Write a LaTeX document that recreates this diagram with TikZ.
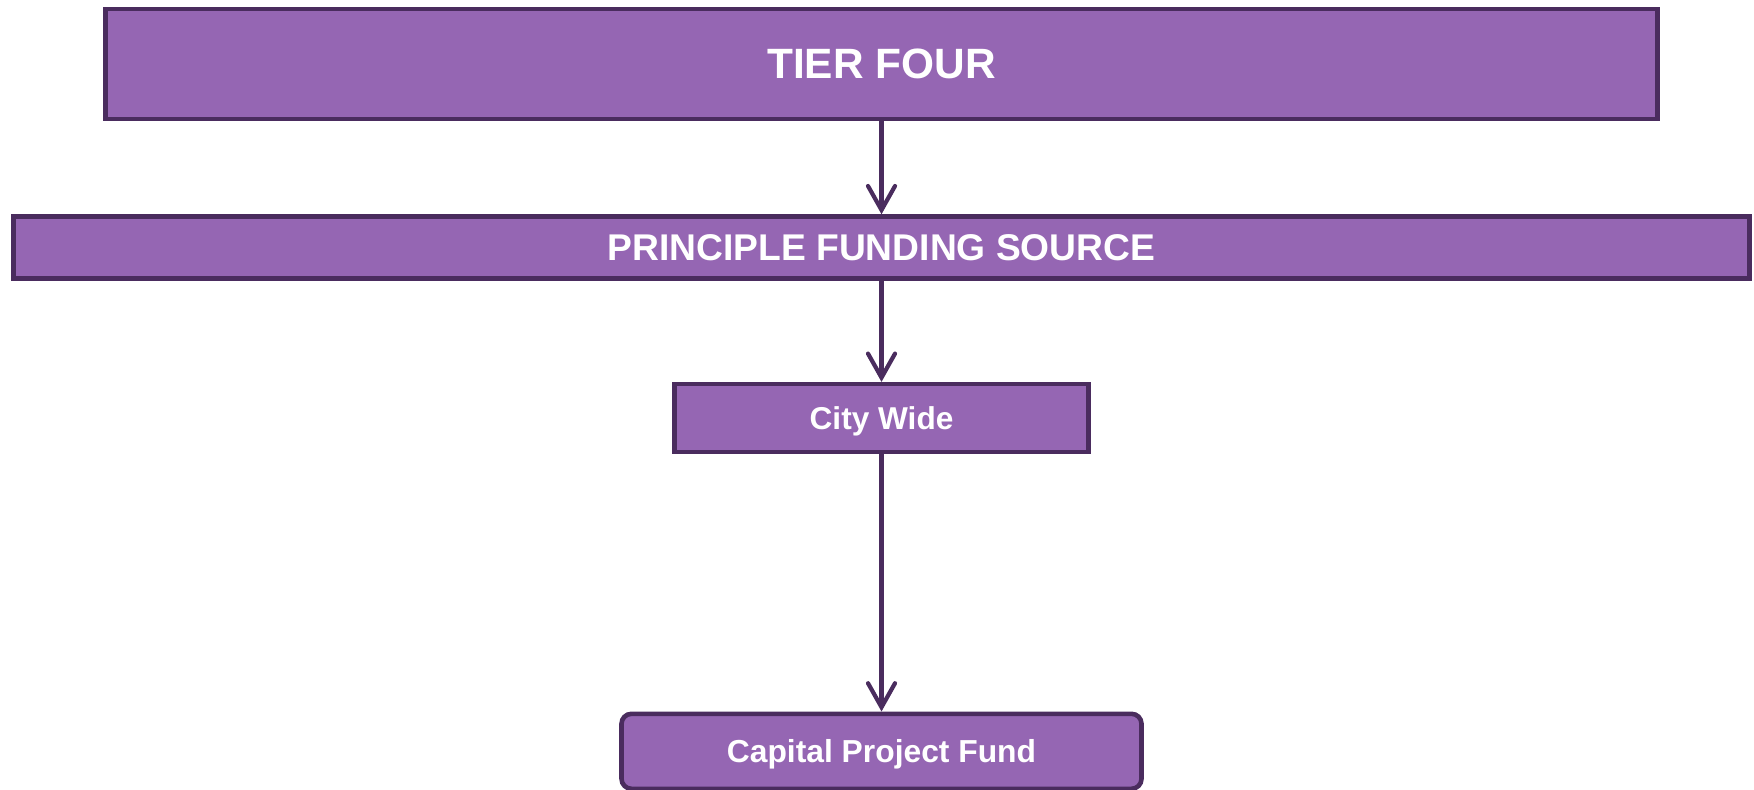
\documentclass[tikz,border=0pt]{standalone}
\usepackage{fontspec}
\setmainfont{Liberation Sans}
\usetikzlibrary{arrows.meta}
\usetikzlibrary{positioning}
\definecolor{tierfill}{RGB}{149,102,179}
\definecolor{tierline}{RGB}{74,44,94}
\tikzset{
    tierbox/.style={
           rectangle,
           draw=tierline, line width=2.3pt,
           fill=tierfill,
           text=white,
           inner sep=2pt,
           text depth=0pt,
           text centered,
           },
    tierfont/.style={font=\bfseries\fontsize{#1}{#1}\selectfont},
}

\begin{document}
\begin{tikzpicture}[x=0.5pt,y=-0.5pt,>={Straight Barb[length=12pt,width=13.5pt,line cap=round]}]
      \useasboundingbox (0,0) rectangle (1754,790);
      \node[tierbox, tierfont=21.2pt, minimum width=776pt, minimum height=55pt] (tier) at (881.5,64) {TIER FOUR};
      \node[tierbox, tierfont=18.6pt, minimum width=868pt, minimum height=31pt] (source) [below=46.5pt of tier] {PRINCIPLE FUNDING SOURCE};
      \node[tierbox, tierfont=15.8pt, minimum width=207pt, minimum height=34pt] (city) [below=50.5pt of source] {City Wide};
      \node[tierbox, tierfont=15.9pt, rounded corners=5pt, minimum width=260pt, minimum height=37.5pt] (fund) [below=128.5pt of city] {Capital Project Fund};
      \path[->, draw=tierline, line width=2.1pt]
      (tier) edge (source)
      (source) edge (city)
      (city) edge (fund);
\end{tikzpicture}
\end{document}
